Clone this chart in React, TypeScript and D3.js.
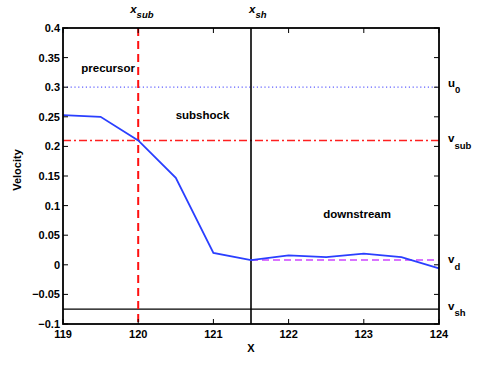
import React from "react";
import * as d3 from "d3";

const xs = [119, 119.5, 120, 120.5, 121, 121.5, 122, 122.5, 123, 123.5, 124];
const velocity = [0.253, 0.25, 0.21, 0.147, 0.02, 0.008, 0.016, 0.013, 0.019, 0.013, -0.006];
const xTicks = [119, 120, 121, 122, 123, 124];
const yTicks = [-0.1, -0.05, 0, 0.05, 0.1, 0.15, 0.2, 0.25, 0.3, 0.35, 0.4];
const u0 = 0.3;
const vSub = 0.21;
const vD = 0.008;
const vSh = -0.075;
const xSub = 120;
const xSh = 121.5;
const regionLabels = [
  { text: "precursor", x: 119.6, y: 0.326 },
  { text: "subshock", x: 120.855, y: 0.246 },
  { text: "downstream", x: 122.91, y: 0.0785 },
];

export default function App() {
  const W = 485, H = 365;
  const L = 63, R = 439, T = 28, B = 324;
  const x = d3.scaleLinear().domain([119, 124]).range([L, R]);
  const y = d3.scaleLinear().domain([-0.1, 0.4]).range([B, T]);
  const line = d3.line<number>().x((_, i) => x(xs[i])).y((d) => y(d));
  const font = "'Liberation Sans', Arial, sans-serif";
  const fmt = (v: number) => {
    const s = d3.format("")(+v.toFixed(2));
    return s.replace("-", "\u2212");
  };
  const tl = 5;
  return (
    <svg width={W} height={H} style={{ position: "absolute", left: 0, top: 0, background: "#fff" }} fontFamily={font}>
      {/* horizontal reference lines */}
      <line x1={L} x2={R} y1={y(u0)} y2={y(u0)} stroke="#6060ff" strokeWidth={1.3} strokeDasharray="1.2,2.6" />
      <line x1={L} x2={R} y1={y(vSub)} y2={y(vSub)} stroke="#ff2020" strokeWidth={1.6} strokeDasharray="8,3,2,3" />
      <line x1={x(xSh)} x2={R} y1={y(vD)} y2={y(vD)} stroke="#cc44ff" strokeWidth={1.6} strokeDasharray="7,4" />
      <line x1={L} x2={R} y1={y(vSh)} y2={y(vSh)} stroke="#000" strokeWidth={1.2} />
      {/* vertical lines */}
      <line x1={x(xSub)} x2={x(xSub)} y1={T} y2={B} stroke="#ff1010" strokeWidth={2} strokeDasharray="8,5" />
      <line x1={x(xSh)} x2={x(xSh)} y1={T} y2={B} stroke="#000" strokeWidth={1.6} />
      {/* data */}
      <path d={line(velocity) || ""} fill="none" stroke="#2a3fff" strokeWidth={1.8} />
      {/* axes box */}
      <rect x={L} y={T} width={R - L} height={B - T} fill="none" stroke="#000" strokeWidth={1.8} />
      {xTicks.map((t) => (
        <g key={"x" + t}>
          <line x1={x(t)} x2={x(t)} y1={B} y2={B - tl} stroke="#000" />
          <line x1={x(t)} x2={x(t)} y1={T} y2={T + tl} stroke="#000" />
          <text x={x(t)} y={B + 14} fontSize={11} fontWeight="bold" textAnchor="middle">{t}</text>
        </g>
      ))}
      {yTicks.map((t) => (
        <g key={"y" + t}>
          <line x1={L} x2={L + tl} y1={y(t)} y2={y(t)} stroke="#000" />
          <line x1={R} x2={R - tl} y1={y(t)} y2={y(t)} stroke="#000" />
          <text x={L - 3} y={y(t) + 4} fontSize={11} fontWeight="bold" textAnchor="end">{fmt(t)}</text>
        </g>
      ))}
      {/* axis labels */}
      <text x={x(121.5)} y={352} fontSize={11} fontWeight="bold" textAnchor="middle">X</text>
      <text transform={`translate(21,170) rotate(-90)`} fontSize={11} fontWeight="bold" textAnchor="middle">Velocity</text>
      {/* region labels */}
      {regionLabels.map((r) => (
        <text key={r.text} x={x(r.x)} y={y(r.y)} fontSize={11.5} fontWeight="bold" textAnchor="middle">{r.text}</text>
      ))}
      {/* top labels */}
      <text x={x(xSub) - 8} y={13} fontSize={11.5} fontWeight="bold" fontStyle="italic">x<tspan fontSize={9.5} dy={5}>sub</tspan></text>
      <text x={x(xSh) - 2} y={13} fontSize={11.5} fontWeight="bold" fontStyle="italic">x<tspan fontSize={9.5} dy={5}>sh</tspan></text>
      {/* right labels */}
      <text x={448} y={y(u0)} fontSize={11.5} fontWeight="bold">u<tspan fontSize={9.5} dy={6}>0</tspan></text>
      <text x={448} y={y(vSub) + 1.5} fontSize={11.5} fontWeight="bold">v<tspan fontSize={9.5} dy={7}>sub</tspan></text>
      <text x={448} y={y(vD) + 3} fontSize={11.5} fontWeight="bold">v<tspan fontSize={9.5} dy={7}>d</tspan></text>
      <text x={448} y={y(vSh) + 1} fontSize={11.5} fontWeight="bold">v<tspan fontSize={9.5} dy={6}>sh</tspan></text>
    </svg>
  );
}
